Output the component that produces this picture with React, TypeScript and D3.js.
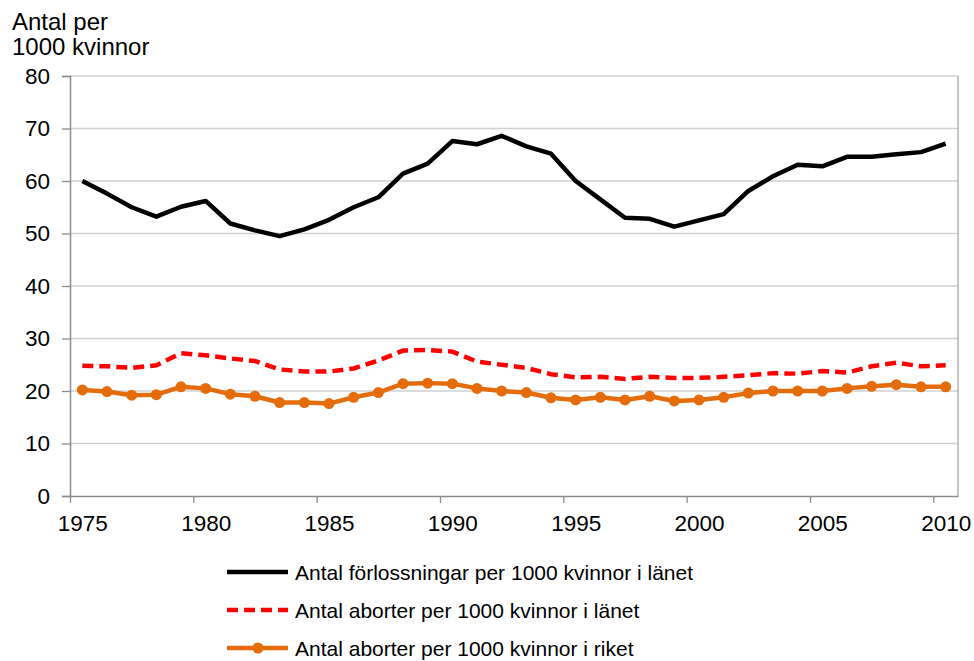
import React, { useEffect, useRef } from "react";
import * as d3 from "d3";

const years: number[] = d3.range(1975, 2011);

const births: number[] = [
  60.0, 57.6, 55.0, 53.2, 55.1, 56.2, 51.9, 50.6, 49.5, 50.8, 52.6, 55.0,
  56.9, 61.4, 63.3, 67.6, 67.0, 68.6, 66.6, 65.2, 60.0, 56.5, 53.0, 52.8,
  51.3, 52.5, 53.7, 58.1, 60.9, 63.1, 62.8, 64.6, 64.6, 65.1, 65.5, 67.1,
];

const abortsCounty: number[] = [
  24.8, 24.7, 24.4, 24.9, 27.2, 26.8, 26.2, 25.7, 24.1, 23.7, 23.7, 24.3,
  25.8, 27.7, 27.8, 27.5, 25.6, 25.0, 24.4, 23.2, 22.6, 22.7, 22.3, 22.7,
  22.5, 22.5, 22.7, 23.0, 23.4, 23.3, 23.8, 23.5, 24.7, 25.4, 24.7, 24.9,
];

const abortsNation: number[] = [
  20.2, 19.9, 19.2, 19.3, 20.8, 20.5, 19.4, 19.0, 17.8, 17.8, 17.6, 18.8,
  19.7, 21.4, 21.5, 21.4, 20.5, 20.0, 19.7, 18.7, 18.3, 18.8, 18.3, 19.0,
  18.1, 18.3, 18.8, 19.6, 20.0, 20.0, 20.0, 20.5, 20.9, 21.2, 20.8, 20.8,
];

const yTicks: number[] = [0, 10, 20, 30, 40, 50, 60, 70, 80];
const xTicks: number[] = [1975, 1980, 1985, 1990, 1995, 2000, 2005, 2010];

const titleLines: string[] = ["Antal per", "1000 kvinnor"];

const legendLabels: string[] = [
  "Antal förlossningar per 1000 kvinnor i länet",
  "Antal aborter per 1000 kvinnor i länet",
  "Antal aborter per 1000 kvinnor i riket",
];

const FONT = "Arial, 'Liberation Sans', sans-serif";

function drawChart(ref: React.MutableRefObject<SVGSVGElement | null>) {
  const svg = d3.select(ref.current);
  svg.selectAll("*").remove();

  // plot area
  const left = 70;
  const right = 958;
  const top = 76;
  const bottom = 496;

  // category axis: each year sits in the middle of its slot
  const xScale = d3.scaleLinear().domain([1975, 2011]).range([left, right]);
  const yScale = d3.scaleLinear().domain([0, 80]).range([bottom, top]);
  const xPos = (yr: number) => xScale(yr + 0.5);
  const half = xPos(1975) - xScale(1975);

  // gridlines
  svg
    .append("g")
    .selectAll("line")
    .data(yTicks.filter((d) => d > 0))
    .enter()
    .append("line")
    .attr("x1", left)
    .attr("x2", right)
    .attr("y1", (d) => yScale(d))
    .attr("y2", (d) => yScale(d))
    .style("stroke", "#d0d0d0")
    .style("stroke-width", 1.3);

  // right border
  svg
    .append("line")
    .attr("x1", right)
    .attr("x2", right)
    .attr("y1", top)
    .attr("y2", bottom)
    .style("stroke", "#a6a6a6")
    .style("stroke-width", 1.3);

  // y axis
  const yAxis = svg
    .append("g")
    .attr("transform", `translate(${left},0)`)
    .call(d3.axisLeft(yScale).tickValues(yTicks).tickSize(8).tickPadding(12));
  yAxis.select(".domain").style("stroke", "#8c8c8c").style("stroke-width", 1.5);
  yAxis.selectAll(".tick line").style("stroke", "#8c8c8c").style("stroke-width", 1.3);
  yAxis
    .selectAll(".tick text")
    .style("font-family", FONT)
    .style("font-size", "22.5px")
    .style("fill", "#000");

  // x axis: tick marks between categories, labels on the category centre
  const xAxis = svg
    .append("g")
    .attr("transform", `translate(0,${bottom})`)
    .call(
      d3
        .axisBottom(xScale)
        .tickValues(xTicks)
        .tickFormat(d3.format("d"))
        .tickSize(7)
        .tickSizeOuter(0)
        .tickPadding(12)
    );
  xAxis.select(".domain").style("stroke", "#8c8c8c").style("stroke-width", 1.5);
  xAxis.selectAll(".tick line").style("stroke", "#8c8c8c").style("stroke-width", 1.3);
  xAxis
    .selectAll(".tick text")
    .attr("x", half)
    .style("font-family", FONT)
    .style("font-size", "22.5px")
    .style("fill", "#000");

  // axis title
  svg
    .append("g")
    .selectAll("text")
    .data(titleLines)
    .enter()
    .append("text")
    .attr("x", 12)
    .attr("y", (d, i) => 30 + i * 25)
    .style("font-family", FONT)
    .style("font-size", "24px")
    .style("fill", "#000")
    .text((d) => d);

  const line = d3
    .line<number>()
    .x((d, i) => xPos(years[i]))
    .y((d) => yScale(d));

  svg
    .append("path")
    .datum(abortsCounty)
    .attr("d", line)
    .style("fill", "none")
    .style("stroke", "#ff0000")
    .style("stroke-width", 4.5)
    .style("stroke-dasharray", "11,6");

  svg
    .append("path")
    .datum(abortsNation)
    .attr("d", line)
    .style("fill", "none")
    .style("stroke", "#e46c0a")
    .style("stroke-width", 4.5)
    .style("stroke-linejoin", "round");

  svg
    .append("g")
    .selectAll("circle")
    .data(abortsNation)
    .enter()
    .append("circle")
    .attr("cx", (d, i) => xPos(years[i]))
    .attr("cy", (d) => yScale(d))
    .attr("r", 5.5)
    .style("fill", "#e46c0a");

  svg
    .append("path")
    .datum(births)
    .attr("d", line)
    .style("fill", "none")
    .style("stroke", "#000")
    .style("stroke-width", 4.5)
    .style("stroke-linejoin", "round");

  // legend
  const legendStyles = [
    { color: "#000", dash: "none", marker: false },
    { color: "#ff0000", dash: "11,6", marker: false },
    { color: "#e46c0a", dash: "none", marker: true },
  ];
  const legend = svg.append("g");
  legendLabels.forEach((label, i) => {
    const y = 572 + i * 38;
    const st = legendStyles[i];
    legend
      .append("line")
      .attr("x1", 227)
      .attr("x2", 288)
      .attr("y1", y)
      .attr("y2", y)
      .style("stroke", st.color)
      .style("stroke-width", 4.5)
      .style("stroke-dasharray", st.dash);
    if (st.marker) {
      legend
        .append("circle")
        .attr("cx", 258)
        .attr("cy", y)
        .attr("r", 5.5)
        .style("fill", st.color);
    }
    legend
      .append("text")
      .attr("x", 295)
      .attr("y", y + 7.5)
      .style("font-family", FONT)
      .style("font-size", "21px")
      .style("fill", "#000")
      .text(label);
  });
}

const App = () => {
  const svgRef = useRef<SVGSVGElement | null>(null);
  useEffect(() => {
    drawChart(svgRef);
  }, []);

  return (
    <svg
      ref={svgRef}
      width={974}
      height={661}
      style={{ position: "absolute", left: 0, top: 0, background: "#fff" }}
    />
  );
};

export default App;
